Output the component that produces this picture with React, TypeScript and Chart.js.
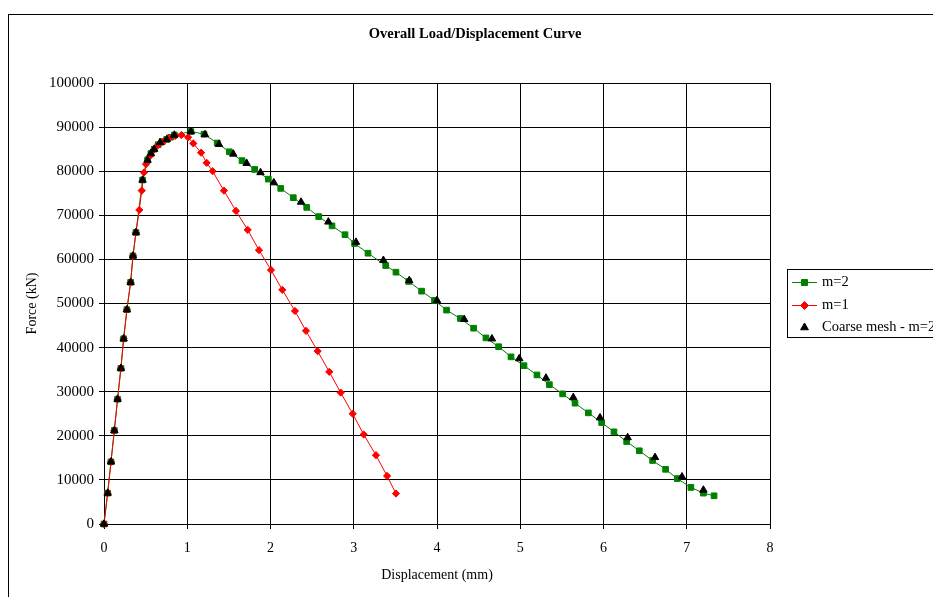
import React, { useEffect, useRef } from "react";
import { Chart, registerables } from "chart.js";

Chart.register(...registerables);

// ---------- data ----------
const chartTitle = "Overall Load/Displacement Curve";
const xTitle = "Displacement (mm)";
const yTitle = "Force (kN)";
const seriesLabels = ["m=2", "m=1", "Coarse mesh - m=2"];

const m2Disp = [
  0, 0.044, 0.084, 0.124, 0.163, 0.203, 0.236, 0.275, 0.32, 0.348, 0.384, 0.463, 0.523, 0.563,
  0.603, 0.65, 0.7, 0.753, 0.8, 0.845, 1.044, 1.201, 1.36, 1.505, 1.658, 1.81, 1.974, 2.123,
  2.274, 2.435, 2.579, 2.739, 2.895, 3.01, 3.171, 3.384, 3.507, 3.66, 3.815, 3.97, 4.115, 4.28,
  4.44, 4.588, 4.74, 4.889, 5.045, 5.201, 5.35, 5.509, 5.658, 5.818, 5.978, 6.126, 6.278, 6.43,
  6.59, 6.746, 6.886, 7.05, 7.2, 7.328,
];
const m2Force = [
  0, 7000, 14100, 21200, 28300, 35300, 42000, 48600, 54800, 60800, 66100, 78000, 82500, 84000,
  85000, 86000, 86700, 87200, 87700, 88200, 89000, 88400, 86400, 84400, 82400, 80400, 78200,
  76100, 74000, 71800, 69700, 67600, 65600, 63600, 61400, 58600, 57100, 55000, 52800, 50700,
  48500, 46600, 44400, 42200, 40200, 37900, 35900, 33800, 31600, 29500, 27400, 25200, 23000,
  20900, 18700, 16600, 14400, 12400, 10300, 8300, 7000, 6400,
];

const m1Disp = [
  0, 0.044, 0.084, 0.124, 0.163, 0.203, 0.236, 0.275, 0.32, 0.348, 0.384, 0.424, 0.453, 0.48,
  0.505, 0.545, 0.595, 0.65, 0.71, 0.78, 0.855, 0.93, 1.01, 1.073, 1.166, 1.233, 1.305, 1.44,
  1.585, 1.726, 1.862, 2.006, 2.142, 2.294, 2.426, 2.566, 2.706, 2.843, 2.987, 3.119, 3.267,
  3.4, 3.507,
];
const m1Force = [
  0, 7000, 14100, 21200, 28300, 35300, 42000, 48600, 54800, 60800, 66100, 71200, 75600, 79700,
  81600, 83300, 84800, 85900, 86700, 87500, 88000, 88200, 87700, 86300, 84200, 81900, 80000,
  75600, 71000, 66700, 62100, 57600, 53100, 48300, 43800, 39200, 34500, 29800, 25000, 20300,
  15600, 10900, 6900,
];

const coarseDisp = [
  0, 0.044, 0.084, 0.124, 0.163, 0.203, 0.236, 0.275, 0.32, 0.348, 0.384, 0.463, 0.523, 0.563,
  0.603, 0.673, 0.753, 0.845, 1.044, 1.213, 1.381, 1.553, 1.713, 1.88, 2.04, 2.367, 2.695,
  3.027, 3.356, 3.667, 4.0, 4.327, 4.66, 4.988, 5.309, 5.637, 5.958, 6.29, 6.619, 6.943, 7.2,
];
const coarseForce = [
  0, 7000, 14100, 21200, 28300, 35300, 42000, 48600, 54800, 60800, 66100, 78000, 82500, 84000,
  85000, 86500, 87200, 88200, 89000, 88300, 86100, 83900, 81800, 79700, 77400, 73000, 68500,
  63900, 59800, 55200, 50700, 46400, 42000, 37500, 33100, 28700, 24100, 19600, 15100, 10700,
  7700,
];

const xMin = 0;
const xMax = 8;
const xStep = 1;
const yMin = 0;
const yMax = 100000;
const yStep = 10000;

// ---------- styles ----------
const FONT = "'Liberation Serif', 'Times New Roman', serif";
const GREEN = "#008000";
const RED = "#FF0000";
const BLACK = "#000000";

function toPoints(xs: number[], ys: number[]) {
  return xs.map((x, i) => ({ x, y: ys[i] }));
}

function drawMarker(ctx: CanvasRenderingContext2D, shape: string, x: number, y: number, color: string) {
  ctx.save();
  ctx.fillStyle = color;
  ctx.strokeStyle = color;
  ctx.lineWidth = 1;
  ctx.beginPath();
  if (shape === "rect") {
    ctx.rect(x - 3, y - 3, 6, 6);
  } else if (shape === "rectRot") {
    ctx.moveTo(x, y - 4);
    ctx.lineTo(x + 4, y);
    ctx.lineTo(x, y + 4);
    ctx.lineTo(x - 4, y);
    ctx.closePath();
  } else {
    ctx.moveTo(x, y - 4.5);
    ctx.lineTo(x + 3.9, y + 2.25);
    ctx.lineTo(x - 3.9, y + 2.25);
    ctx.closePath();
  }
  ctx.fill();
  ctx.stroke();
  ctx.restore();
}

export default function App() {
  const ref = useRef<HTMLCanvasElement>(null);

  useEffect(() => {
    const canvas = ref.current;
    if (!canvas) return;

    const decor = {
      id: "decor",
      beforeDraw(chart: any) {
        const ctx = chart.ctx as CanvasRenderingContext2D;
        ctx.save();
        ctx.fillStyle = "#fff";
        ctx.fillRect(0, 0, chart.width, chart.height);
        ctx.strokeStyle = BLACK;
        ctx.lineWidth = 1;
        ctx.strokeRect(8.5, 14.5, 934, 600);
        ctx.fillStyle = BLACK;
        ctx.font = `bold 14.5px ${FONT}`;
        ctx.textAlign = "center";
        ctx.textBaseline = "middle";
        ctx.fillText(chartTitle, 475, 34);
        ctx.restore();
      },
      afterDraw(chart: any) {
        const ctx = chart.ctx as CanvasRenderingContext2D;
        ctx.save();
        ctx.fillStyle = "#fff";
        ctx.fillRect(787.5, 269.5, 156, 68);
        ctx.strokeStyle = BLACK;
        ctx.lineWidth = 1;
        ctx.strokeRect(787.5, 269.5, 156, 68);
        const rows = [
          { y: 282.5, color: GREEN, line: true, shape: "rect" },
          { y: 305.5, color: RED, line: true, shape: "rectRot" },
          { y: 327.5, color: BLACK, line: false, shape: "triangle" },
        ];
        rows.forEach((r, i) => {
          if (r.line) {
            ctx.strokeStyle = r.color;
            ctx.lineWidth = 1;
            ctx.beginPath();
            ctx.moveTo(792, r.y);
            ctx.lineTo(817, r.y);
            ctx.stroke();
          }
          drawMarker(ctx, r.shape, 804.5, r.y, r.color);
          ctx.fillStyle = BLACK;
          ctx.font = `14.5px ${FONT}`;
          ctx.textAlign = "left";
          ctx.textBaseline = "middle";
          ctx.fillText(seriesLabels[i], 822, r.y);
        });
        ctx.restore();
      },
    };

    const tickFont = { family: FONT, size: 14 };
    const yTickFont = { family: FONT, size: 15 };

    const chart = new Chart(canvas, {
      type: "scatter",
      data: {
        datasets: [
          {
            label: seriesLabels[0],
            data: toPoints(m2Disp, m2Force),
            showLine: true,
            borderColor: GREEN,
            backgroundColor: GREEN,
            borderWidth: 1,
            pointStyle: "rect",
            pointRadius: 4,
            pointBorderWidth: 1,
            pointBorderColor: GREEN,
            pointBackgroundColor: GREEN,
            clip: false,
            order: 3,
          },
          {
            label: seriesLabels[1],
            data: toPoints(m1Disp, m1Force),
            showLine: true,
            borderColor: RED,
            backgroundColor: RED,
            borderWidth: 1,
            pointStyle: "rectRot",
            pointRadius: 3.6,
            pointBorderWidth: 1,
            pointBorderColor: RED,
            pointBackgroundColor: RED,
            clip: false,
            order: 2,
          },
          {
            label: seriesLabels[2],
            data: toPoints(coarseDisp, coarseForce),
            showLine: false,
            borderColor: BLACK,
            backgroundColor: BLACK,
            pointStyle: "triangle",
            pointRadius: 4.3,
            pointBorderWidth: 1,
            pointBorderColor: BLACK,
            pointBackgroundColor: BLACK,
            clip: false,
            order: 1,
          },
        ],
      },
      options: {
        responsive: false,
        animation: false,
        events: [],
        layout: { padding: { top: 83, right: 180, bottom: 0, left: 0 } },
        plugins: {
          legend: { display: false },
          title: { display: false },
          tooltip: { enabled: false },
        },
        scales: {
          x: {
            type: "linear",
            min: xMin,
            max: xMax,
            afterFit: (s: any) => {
              s.height = 86;
            },
            ticks: {
              stepSize: xStep,
              padding: 11,
              color: BLACK,
              font: tickFont,
              maxRotation: 0,
              autoSkip: false,
            },
            grid: { color: BLACK, lineWidth: 1, tickLength: 5, tickColor: BLACK },
            border: { color: BLACK, width: 1 },
            title: {
              display: true,
              text: xTitle,
              color: BLACK,
              font: tickFont,
              padding: { top: 0, bottom: 26.6 },
            },
          },
          y: {
            type: "linear",
            min: yMin,
            max: yMax,
            afterFit: (s: any) => {
              s.width = 104;
            },
            ticks: {
              stepSize: yStep,
              padding: 5,
              color: BLACK,
              font: yTickFont,
              autoSkip: false,
              callback: (v: any) => String(v),
            },
            grid: { color: BLACK, lineWidth: 1, tickLength: 5, tickColor: BLACK },
            border: { color: BLACK, width: 1 },
            title: {
              display: true,
              text: yTitle,
              color: BLACK,
              font: tickFont,
              padding: { top: 23.6, bottom: 0 },
            },
          },
        },
      },
      plugins: [decor],
    } as any);

    return () => chart.destroy();
  }, []);

  return (
    <div
      style={{
        position: "fixed",
        left: 0,
        top: 0,
        width: 933,
        height: 597,
        overflow: "hidden",
        background: "#fff",
      }}
    >
      <canvas ref={ref} width={950} height={610} style={{ display: "block" }} />
    </div>
  );
}
